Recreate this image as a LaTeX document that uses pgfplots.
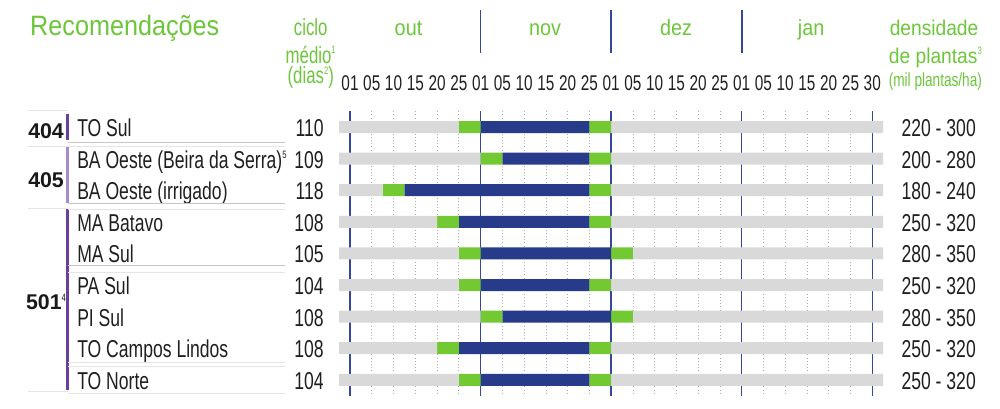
\documentclass[border=0pt]{standalone}
\usepackage{fontspec}
\setmainfont{Liberation Sans}
\newfontfamily\cond{Liberation Sans}[FakeStretch=0.72]
\newfontfamily\hdr{Liberation Sans}[FakeStretch=0.9]
\usepackage{pgfplots}
\usepackage{pgfplotstable}
\pgfplotsset{compat=1.18}

\definecolor{barg}{HTML}{D9D9D9}
\definecolor{grn}{HTML}{72C932}
\definecolor{blu}{HTML}{283A8A}
\definecolor{mline}{HTML}{34479A}
\definecolor{hgreen}{HTML}{6CC63A}
\definecolor{purD}{HTML}{6B3FA0}
\definecolor{purL}{HTML}{A98BC9}

\newcommand{\nota}[1]{\raisebox{0.75ex}{\cond\mdseries\fontsize{8}{8}\selectfont #1}}

% calendario: posicoes em "casas" de 5 dias (0 = antes de 01/out)
\pgfplotstableread{
row gs  bs  be   ge
1   5.5 6.5 11.5 12.5
2   6.5 7.5 11.5 12.5
3   2.0 3.0 11.5 12.5
4   4.5 5.5 11.5 12.5
5   5.5 6.5 12.5 13.5
6   5.5 6.5 11.5 12.5
7   6.5 7.5 12.5 13.5
8   4.5 5.5 11.5 12.5
9   5.5 6.5 11.5 12.5
}\sched

\tikzset{
  lab/.style={anchor=base west, inner sep=0pt, text=black!88, font=\cond\fontsize{18.3}{20}\selectfont},
  num/.style={anchor=base east, inner sep=0pt, text=black!88, font=\cond\fontsize{18.3}{20}\selectfont},
  grp/.style={anchor=base west, inner sep=0pt, text=black!90, font=\bfseries\fontsize{16}{18}\selectfont},
  hd/.style={anchor=base, inner sep=0pt, text=hgreen, font=\hdr\fontsize{16.5}{18}\selectfont},
  hc/.style={anchor=base, inner sep=0pt, text=hgreen, font=\cond\fontsize{17.5}{19}\selectfont},
  sepD/.style={draw=black!22, line width=0.6pt},
  sepL/.style={draw=black!10, line width=0.6pt},
}

\begin{document}
\begin{tikzpicture}
\begin{axis}[
    scale only axis,
    width=408pt, height=213.3pt,
    xmin=0, xmax=25, ymin=0.5, ymax=9.5,
    enlargelimits=false,
    y dir=reverse,
    xbar stacked, bar width=9pt,
    axis line style={draw=none},
    ytick=\empty,
    xtick={0.5,1.5,2.5,3.5,4.5,5.5,6.5,7.5,8.5,9.5,10.5,11.5,12.5,13.5,14.5,15.5,16.5,17.5,18.5,19.5,20.5,21.5,22.5,23.5,24.5},
    xticklabels={01,05,10,15,20,25,01,05,10,15,20,25,01,05,10,15,20,25,01,05,10,15,20,25,30},
    xticklabel pos=upper,
    major tick length=0pt, tick style={draw=none},
    xticklabel style={anchor=base, yshift=15.9pt, inner sep=0pt, text=black!88,
        font=\cond\fontsize{16}{18}\selectfont},
    xmajorgrids,
    major grid style={dotted, black!32, line width=0.5pt},
    extra x ticks={0.5,6.5,12.5,18.5,24.5},
    extra x tick labels={,,,,},
    extra x tick style={grid=major, major grid style={solid, draw=mline, line width=1pt}},
    clip=false,
]
\addplot[fill=barg, draw=none] table[x=gs, y=row]{\sched};
\addplot[fill=grn, draw=none] table[x expr=\thisrow{bs}-\thisrow{gs}, y=row]{\sched};
\addplot[fill=blu, draw=none] table[x expr=\thisrow{be}-\thisrow{bs}, y=row]{\sched};
\addplot[fill=grn, draw=none] table[x expr=\thisrow{ge}-\thisrow{be}, y=row]{\sched};
\addplot[fill=barg, draw=none] table[x expr=25-\thisrow{ge}, y=row]{\sched};

% cabecalho
\node[anchor=base west, inner sep=0pt, text=hgreen, font=\hdr\fontsize{21}{24}\selectfont]
  at (axis cs:-14.207,-1.911) {Recomendações};
\node[hc] at (axis cs:-1.305,-1.911) {ciclo};
\node[hc] at (axis cs:-1.305,-1.025) {médio\nota{1}};
\node[hc] at (axis cs:-1.305,-0.361) {(dias\nota{2})};
\node[hd] at (axis cs:3.188,-1.911) {out};
\node[hd] at (axis cs:9.461,-1.911) {nov};
\node[hd] at (axis cs:15.48,-1.911) {dez};
\node[hd] at (axis cs:21.69,-1.911) {jan};
\node[hd, font=\hdr\fontsize{16}{18}\selectfont] at (axis cs:27.34,-1.911) {densidade};
\node[hd, font=\hdr\fontsize{16}{18}\selectfont] at (axis cs:27.40,-1.025) {de plantas\nota{3}};
\node[hc, font=\cond\fontsize{14.2}{16}\selectfont] at (axis cs:27.40,-0.297) {(mil plantas/ha)};
\draw[mline, line width=1.2pt] (axis cs:6.5,-2.703) -- (axis cs:6.5,-1.342);
\draw[mline, line width=1.2pt] (axis cs:12.5,-2.703) -- (axis cs:12.5,-1.342);
\draw[mline, line width=1.2pt] (axis cs:18.5,-2.703) -- (axis cs:18.5,-1.342);

% separadores
\draw[sepL] (axis cs:-14.298,0.462) -- (axis cs:-12.46,0.462);
\draw[sepL] (axis cs:-14.298,1.601) -- (axis cs:-12.46,1.601);
\draw[sepL] (axis cs:-14.298,3.563) -- (axis cs:-12.46,3.563);
\draw[sepL] (axis cs:-14.298,9.354) -- (axis cs:-12.46,9.354);
\draw[sepD] (axis cs:-12.46,1.475) -- (axis cs:-2.488,1.475);
\draw[sepL] (axis cs:-12.46,1.617) -- (axis cs:-2.488,1.617);
\draw[sepD] (axis cs:-12.46,3.405) -- (axis cs:-2.488,3.405);
\draw[sepL] (axis cs:-12.46,3.611) -- (axis cs:-2.488,3.611);
\draw[sepD] (axis cs:-12.46,5.367) -- (axis cs:-2.488,5.367);
\draw[sepL] (axis cs:-12.46,5.589) -- (axis cs:-2.488,5.589);
\draw[sepL] (axis cs:-12.46,8.437) -- (axis cs:-2.488,8.437);
\draw[sepL] (axis cs:-12.46,8.563) -- (axis cs:-2.488,8.563);
\draw[sepL] (axis cs:-12.46,9.418) -- (axis cs:-2.488,9.418);

% grupos
\draw[purD, line width=2.25pt] (axis cs:-12.46,0.589) -- (axis cs:-12.46,1.411);
\draw[purL, line width=2.25pt] (axis cs:-12.46,1.633) -- (axis cs:-12.46,3.405);
\draw[purD, line width=2.25pt] (axis cs:-12.46,3.595) -- (axis cs:-12.46,9.323);
\node[grp] at (axis cs:-14.298,1.358) {404};
\node[grp] at (axis cs:-14.298,2.899) {405};
\node[grp] at (axis cs:-14.40,6.79) {501\nota{4}};

% linhas
\node[lab] at (axis cs:-12.046,1.30) {TO Sul};
\node[lab] at (axis cs:-12.046,2.30) {BA Oeste (Beira da Serra)\nota{5}};
\node[lab] at (axis cs:-12.046,3.30) {BA Oeste (irrigado)};
\node[lab] at (axis cs:-12.046,4.30) {MA Batavo};
\node[lab] at (axis cs:-12.046,5.30) {MA Sul};
\node[lab] at (axis cs:-12.046,6.30) {PA Sul};
\node[lab] at (axis cs:-12.046,7.30) {PI Sul};
\node[lab] at (axis cs:-12.046,8.30) {TO Campos Lindos};
\node[lab] at (axis cs:-12.046,9.30) {TO Norte};

\node[num] at (axis cs:-0.695,1.30) {110};
\node[num] at (axis cs:-0.695,2.30) {109};
\node[num] at (axis cs:-0.695,3.30) {118};
\node[num] at (axis cs:-0.695,4.30) {108};
\node[num] at (axis cs:-0.695,5.30) {105};
\node[num] at (axis cs:-0.695,6.30) {104};
\node[num] at (axis cs:-0.695,7.30) {108};
\node[num] at (axis cs:-0.695,8.30) {108};
\node[num] at (axis cs:-0.695,9.30) {104};

\node[num] at (axis cs:29.27,1.30) {220 - 300};
\node[num] at (axis cs:29.27,2.30) {200 - 280};
\node[num] at (axis cs:29.27,3.30) {180 - 240};
\node[num] at (axis cs:29.27,4.30) {250 - 320};
\node[num] at (axis cs:29.27,5.30) {280 - 350};
\node[num] at (axis cs:29.27,6.30) {250 - 320};
\node[num] at (axis cs:29.27,7.30) {280 - 350};
\node[num] at (axis cs:29.27,8.30) {250 - 320};
\node[num] at (axis cs:29.27,9.30) {250 - 320};

\coordinate (BL) at (axis cs:-15.585,9.892);
\coordinate (TR) at (axis cs:30.37,-3.019);
\end{axis}
\pgfresetboundingbox
\path[use as bounding box] (BL) rectangle (TR);
\end{tikzpicture}
\end{document}
